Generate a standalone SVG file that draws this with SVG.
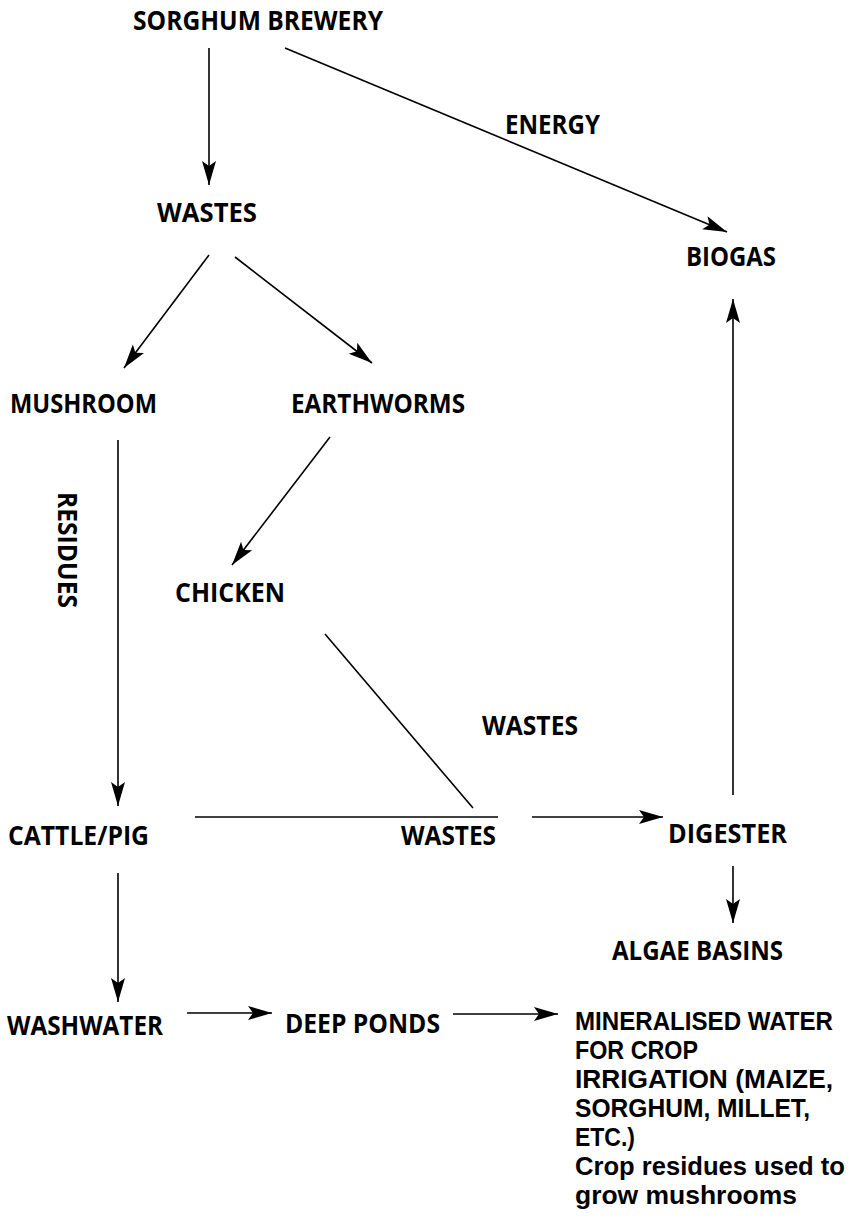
<svg xmlns="http://www.w3.org/2000/svg" width="858" height="1218" viewBox="0 0 858 1218">
<style>
  text { font-family: "Open Sans", "Liberation Sans", sans-serif; font-weight: 700; font-size: 26px; fill: #000; }
  .blk { font-family: "Liberation Sans", Arial, sans-serif; font-size: 25px; }
  .c { stroke: #000; stroke-width: 1.6; fill: none; }
  .a { marker-end: url(#ah); }
</style>
<defs>
  <marker id="ah" markerWidth="26" markerHeight="16" refX="24" refY="8" orient="auto" markerUnits="userSpaceOnUse">
    <path d="M0,1 L24,8 L0,15 L5,8 Z" fill="#000"/>
  </marker>
</defs>
<rect width="858" height="1218" fill="#fff"/>
<g id="connectors">
  <line class="c a" x1="209" y1="48" x2="209" y2="185"/>
  <line class="c a" x1="285" y1="48" x2="727" y2="232"/>
  <line class="c a" x1="209" y1="255" x2="124" y2="368"/>
  <line class="c a" x1="235" y1="257" x2="372" y2="363"/>
  <line class="c a" x1="118" y1="440" x2="118" y2="806"/>
  <line class="c a" x1="330" y1="437" x2="232" y2="565"/>
  <line class="c" x1="325" y1="634" x2="473" y2="808"/>
  <line class="c" x1="195" y1="817" x2="498" y2="817"/>
  <line class="c a" x1="532" y1="817" x2="663" y2="817"/>
  <line class="c a" x1="733" y1="795" x2="733" y2="299"/>
  <line class="c a" x1="733" y1="866" x2="733" y2="923"/>
  <line class="c a" x1="118" y1="873" x2="118" y2="1002"/>
  <line class="c a" x1="187" y1="1013" x2="272" y2="1013"/>
  <line class="c a" x1="453" y1="1014" x2="558" y2="1014"/>
</g>
<g id="sorghum-brewery"><text x="133" y="30" textLength="250" lengthAdjust="spacingAndGlyphs">SORGHUM BREWERY</text></g>
<g id="energy-label"><text x="505" y="134" textLength="95" lengthAdjust="spacingAndGlyphs">ENERGY</text></g>
<g id="wastes-top"><text x="157" y="222" textLength="100" lengthAdjust="spacingAndGlyphs">WASTES</text></g>
<g id="biogas"><text x="686" y="266" textLength="90" lengthAdjust="spacingAndGlyphs">BIOGAS</text></g>
<g id="mushroom"><text x="10" y="413" textLength="147" lengthAdjust="spacingAndGlyphs">MUSHROOM</text></g>
<g id="earthworms"><text x="291" y="413" textLength="174" lengthAdjust="spacingAndGlyphs">EARTHWORMS</text></g>
<g id="residues-label"><text x="0" y="0" transform="translate(58,492) rotate(90)" textLength="116" lengthAdjust="spacingAndGlyphs">RESIDUES</text></g>
<g id="chicken"><text x="175" y="602" textLength="110" lengthAdjust="spacingAndGlyphs">CHICKEN</text></g>
<g id="wastes-chicken-label"><text x="482" y="735" textLength="96" lengthAdjust="spacingAndGlyphs">WASTES</text></g>
<g id="cattle-pig"><text x="8" y="845" textLength="141" lengthAdjust="spacingAndGlyphs">CATTLE/PIG</text></g>
<g id="wastes-lower-label"><text x="401" y="845" textLength="95" lengthAdjust="spacingAndGlyphs">WASTES</text></g>
<g id="digester"><text x="668" y="843" textLength="119" lengthAdjust="spacingAndGlyphs">DIGESTER</text></g>
<g id="algae-basins"><text x="612" y="960" textLength="171" lengthAdjust="spacingAndGlyphs">ALGAE BASINS</text></g>
<g id="washwater"><text x="7" y="1035" textLength="156" lengthAdjust="spacingAndGlyphs">WASHWATER</text></g>
<g id="deep-ponds"><text x="285" y="1033" textLength="155" lengthAdjust="spacingAndGlyphs">DEEP PONDS</text></g>
<g id="mineralised-water">
  <text class="blk" x="575" y="1030" textLength="258" lengthAdjust="spacingAndGlyphs">MINERALISED WATER</text>
  <text class="blk" x="575" y="1059" textLength="123" lengthAdjust="spacingAndGlyphs">FOR CROP</text>
  <text class="blk" x="575" y="1088" textLength="258" lengthAdjust="spacingAndGlyphs">IRRIGATION (MAIZE,</text>
  <text class="blk" x="575" y="1117" textLength="235" lengthAdjust="spacingAndGlyphs">SORGHUM, MILLET,</text>
  <text class="blk" x="575" y="1146" textLength="60" lengthAdjust="spacingAndGlyphs">ETC.)</text>
  <text class="blk" x="575" y="1175" textLength="270" lengthAdjust="spacingAndGlyphs">Crop residues used to</text>
  <text class="blk" x="575" y="1204" textLength="222" lengthAdjust="spacingAndGlyphs">grow mushrooms</text>
</g>
</svg>
